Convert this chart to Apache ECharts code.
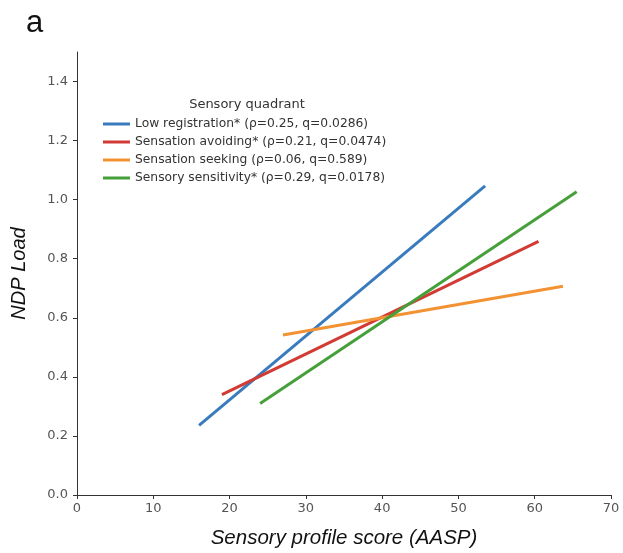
<!DOCTYPE html>
<html><head><meta charset="utf-8">
<script src="https://cdn.jsdelivr.net/npm/echarts@6/dist/echarts.min.js"></script>
<style>html,body{margin:0;padding:0;background:#fff}#c{width:623px;height:553px}</style>
</head><body><div id="c"></div>
<script>
const seriesNames = [
  'Low registration* (ρ=0.25, q=0.0286)',
  'Sensation avoiding* (ρ=0.21, q=0.0474)',
  'Sensation seeking (ρ=0.06, q=0.589)',
  'Sensory sensitivity* (ρ=0.29, q=0.0178)'
];
const lowRegX = [16.0, 53.5];
const lowRegY = [0.236, 1.047];
const avoidX = [19.0, 60.5];
const avoidY = [0.340, 0.859];
const seekX = [27.0, 63.7];
const seekY = [0.542, 0.707];
const sensX = [24.0, 65.5];
const sensY = [0.310, 1.027];
const xTicks = [0, 10, 20, 30, 40, 50, 60, 70];
const yTicks = [0.0, 0.2, 0.4, 0.6, 0.8, 1.0, 1.2, 1.4];
const colors = ['#3a7bbd', '#d13b34', '#f39233', '#45a03a'];

const pairs = (xs, ys) => xs.map((x, i) => [x, ys[i]]);
const seriesData = [pairs(lowRegX, lowRegY), pairs(avoidX, avoidY), pairs(seekX, seekY), pairs(sensX, sensY)];

const chart = echarts.init(document.getElementById('c'));
chart.setOption({
  animation: false,
  backgroundColor: '#fff',
  color: colors,
  title: [
    {text: 'a', left: 21, top: 3, textStyle: {fontFamily: 'Liberation Sans', fontSize: 31, fontWeight: 'normal', color: '#111'}},
    {text: 'Sensory quadrant', left: 242, top: 93, textAlign: 'center', textStyle: {fontFamily: 'DejaVu Sans', fontSize: 13, fontWeight: 'normal', color: '#333'}}
  ],
  legend: {
    orient: 'vertical', left: 98, top: 113,
    data: seriesNames,
    icon: 'rect', itemWidth: 27, itemHeight: 3, itemGap: 6,
    textStyle: {fontFamily: 'DejaVu Sans', fontSize: 12.3, color: '#333', padding: [0, 0, 0, 0]}
  },
  grid: {left: 77, right: 12, top: 52, bottom: 55, containLabel: false},
  xAxis: {
    type: 'value', min: 0, max: 70, interval: 10,
    name: 'Sensory profile score (AASP)', nameLocation: 'middle', nameGap: 33,
    nameTextStyle: {fontFamily: 'Liberation Sans', fontStyle: 'italic', fontSize: 20.5, color: '#111'},
    axisLine: {show: true, lineStyle: {color: '#333', width: 1}},
    axisTick: {show: true, length: 4, lineStyle: {color: '#333'}, customValues: xTicks},
    axisLabel: {fontFamily: 'DejaVu Sans', fontSize: 13, color: '#555', margin: 7, customValues: xTicks},
    splitLine: {show: false}
  },
  yAxis: {
    type: 'value', min: 0, max: 1.5,
    name: 'NDP Load', nameLocation: 'middle', nameGap: 48, nameRotate: 90,
    nameTextStyle: {fontFamily: 'Liberation Sans', fontStyle: 'italic', fontSize: 20, color: '#111'},
    axisLine: {show: true, lineStyle: {color: '#333', width: 1}},
    axisTick: {show: true, length: 4, lineStyle: {color: '#333'}, customValues: yTicks},
    axisLabel: {fontFamily: 'DejaVu Sans', fontSize: 13, color: '#555', margin: 9, customValues: yTicks,
      formatter: v => v.toFixed(1)},
    splitLine: {show: false}
  },
  series: seriesNames.map((n, i) => ({
    name: n, type: 'line', data: seriesData[i], showSymbol: false, symbol: 'none',
    lineStyle: {width: 3, color: colors[i]}, itemStyle: {color: colors[i]}
  }))
});
</script></body></html>
